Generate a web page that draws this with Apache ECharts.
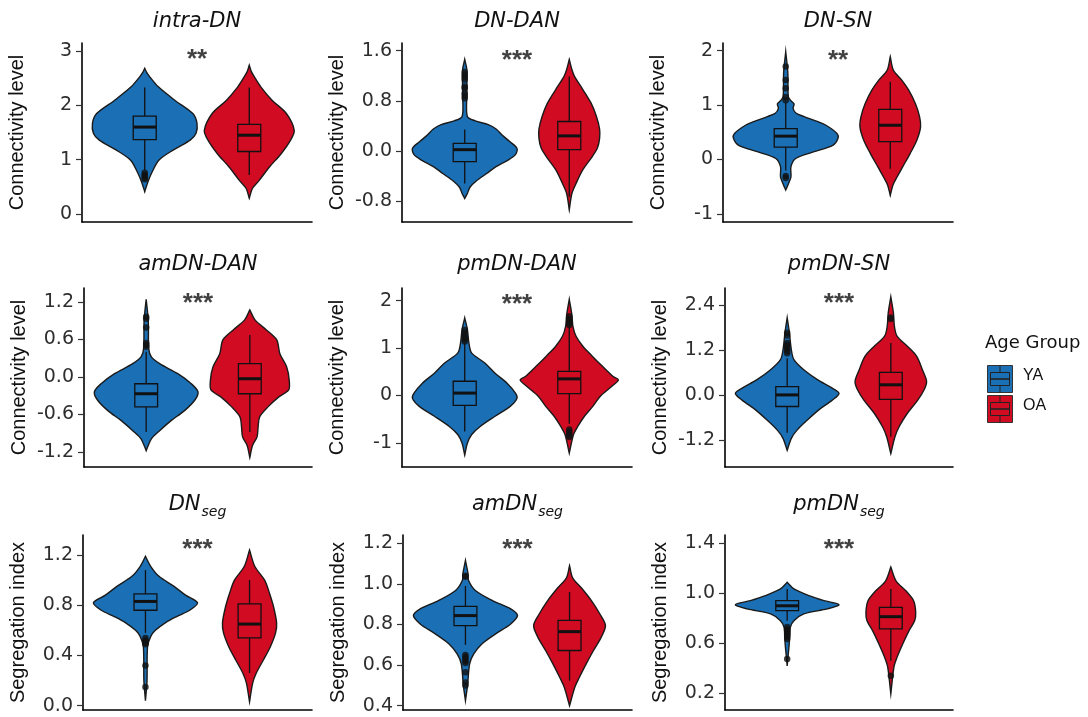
<!DOCTYPE html>
<html><head><meta charset="utf-8">
<script src="https://cdn.jsdelivr.net/npm/echarts@6/dist/echarts.min.js"></script>
<style>html,body{margin:0;padding:0;background:#fff}#c{width:1088px;height:717px}</style>
</head><body><div id="c"></div>
<script>
// ================= DATA =================
const groups = ['YA', 'OA'];
const groupX = [1, 2];
const legendTitle = 'Age Group';

const panelTitles = [['intra-DN',''],['DN-DAN',''],['DN-SN',''],['amDN-DAN',''],['pmDN-DAN',''],['pmDN-SN',''],['DN','seg'],['amDN','seg'],['pmDN','seg']];
const yAxisNames = ['Connectivity level','Connectivity level','Connectivity level','Connectivity level','Connectivity level','Connectivity level','Segregation index','Segregation index','Segregation index'];
const sigLabels = ['**','***','**','***','***','***','***','***','***'];
const sigLevels = [2.84, 1.44, 1.82, 1.16, 1.92, 2.43, 1.243, 1.169, 1.35];

// tick labels per panel
const ticks_intraDN  = ['0','1','2','3'];
const ticks_DN_DAN   = ['-0.8','0.0','0.8','1.6'];
const ticks_DN_SN    = ['-1','0','1','2'];
const ticks_amDN_DAN = ['-1.2','-0.6','0.0','0.6','1.2'];
const ticks_pmDN_DAN = ['-1','0','1','2'];
const ticks_pmDN_SN  = ['-1.2','0.0','1.2','2.4'];
const ticks_DNseg    = ['0.0','0.4','0.8','1.2'];
const ticks_amDNseg  = ['0.4','0.6','0.8','1.0','1.2'];
const ticks_pmDNseg  = ['0.2','0.6','1.0','1.4'];
const yRanges = [[-0.147,3.147],[-1.135,1.723],[-1.147,2.141],[-1.441,1.42],[-1.511,2.269],[-1.916,2.866],[-0.034,1.359],[0.379,1.241],[0.067,1.466]];

// violin profiles: [value, relative density width]
const intraDN_YA_violin = [[2.68,0],[2.60,0.04],[2.52,0.1],[2.34,0.26],[2.09,0.58],[1.85,0.92],[1.67,1.0],[1.48,0.98],[1.36,0.87],[1.18,0.55],[0.99,0.27],[0.75,0.13],[0.59,0.06],[0.41,0]];
const intraDN_OA_violin = [[2.74,0],[2.62,0.04],[2.52,0.1],[2.34,0.22],[2.09,0.44],[1.85,0.71],[1.54,0.86],[1.36,0.79],[1.11,0.61],[0.87,0.39],[0.62,0.19],[0.47,0.06],[0.29,0]];
const DN_DAN_YA_violin = [[1.46,0],[1.30,0.04],[0.90,0.04],[0.55,0.05],[0.48,0.2],[0.42,0.45],[0.35,0.6],[0.25,0.72],[0.15,0.86],[0.04,1.0],[-0.06,0.97],[-0.15,0.82],[-0.25,0.6],[-0.36,0.42],[-0.48,0.22],[-0.58,0.1],[-0.68,0.05],[-0.76,0]];
const DN_DAN_OA_violin = [[1.46,0],[1.30,0.05],[1.19,0.1],[0.98,0.26],[0.76,0.42],[0.55,0.52],[0.35,0.58],[0.20,0.58],[0.05,0.54],[-0.09,0.44],[-0.30,0.26],[-0.52,0.13],[-0.68,0.05],[-0.94,0]];
const DN_SN_YA_violin = [[1.98,0],[1.6,0.04],[1.15,0.05],[1.08,0.1],[1.02,0.16],[0.94,0.14],[0.85,0.2],[0.79,0.35],[0.70,0.6],[0.63,0.77],[0.48,0.98],[0.39,1.0],[0.26,0.9],[0.14,0.53],[0.02,0.19],[-0.13,0.1],[-0.32,0.1],[-0.45,0.05],[-0.56,0]];
const DN_SN_OA_violin = [[1.89,0],[1.64,0.06],[1.46,0.22],[1.28,0.35],[1.03,0.48],[0.79,0.56],[0.60,0.58],[0.36,0.51],[0.11,0.38],[-0.13,0.24],[-0.32,0.13],[-0.47,0.05],[-0.66,0]];
const amDN_DAN_YA_violin = [[1.24,0],[0.9,0.04],[0.45,0.05],[0.32,0.1],[0.21,0.26],[0.05,0.61],[-0.11,0.87],[-0.24,1.0],[-0.37,0.94],[-0.54,0.74],[-0.70,0.48],[-0.86,0.26],[-0.99,0.1],[-1.18,0]];
const amDN_DAN_OA_violin = [[1.07,0],[0.91,0.1],[0.75,0.32],[0.59,0.52],[0.37,0.58],[0.16,0.71],[-0.05,0.76],[-0.21,0.75],[-0.32,0.56],[-0.48,0.35],[-0.64,0.19],[-0.80,0.16],[-0.96,0.14],[-1.10,0.05],[-1.29,0]];
const pmDN_DAN_YA_violin = [[1.64,0],[1.4,0.05],[1.11,0.08],[0.90,0.13],[0.68,0.39],[0.47,0.58],[0.26,0.81],[0.05,0.97],[-0.06,1.0],[-0.23,0.87],[-0.44,0.58],[-0.66,0.29],[-0.83,0.13],[-1.01,0.05],[-1.26,0]];
const pmDN_DAN_OA_violin = [[2.03,0],[1.7,0.05],[1.46,0.07],[1.25,0.13],[1.04,0.26],[0.83,0.44],[0.61,0.64],[0.40,0.84],[0.33,0.94],[0.19,0.81],[-0.02,0.59],[-0.23,0.45],[-0.44,0.29],[-0.66,0.16],[-0.83,0.08],[-1.22,0]];
const pmDN_SN_YA_violin = [[2.07,0],[1.7,0.04],[1.22,0.08],[0.95,0.13],[0.68,0.32],[0.41,0.59],[0.19,0.87],[0.05,1.0],[-0.13,0.87],[-0.39,0.61],[-0.66,0.39],[-0.93,0.19],[-1.15,0.08],[-1.47,0]];
const pmDN_SN_OA_violin = [[2.63,0],[2.2,0.05],[1.84,0.07],[1.58,0.12],[1.31,0.32],[1.04,0.5],[0.68,0.61],[0.37,0.69],[0.14,0.64],[-0.13,0.52],[-0.48,0.32],[-0.84,0.16],[-1.11,0.08],[-1.56,0]];
const DNseg_YA_violin = [[1.19,0],[1.11,0.1],[1.03,0.26],[0.95,0.55],[0.88,0.77],[0.82,1.0],[0.76,0.85],[0.71,0.6],[0.66,0.38],[0.60,0.19],[0.55,0.1],[0.47,0.04],[0.2,0.03],[0.04,0]];
const DNseg_OA_violin = [[1.24,0],[1.11,0.1],[1.0,0.29],[0.90,0.38],[0.79,0.46],[0.66,0.52],[0.58,0.5],[0.47,0.4],[0.36,0.26],[0.26,0.13],[0.18,0.06],[0.03,0]];
const amDNseg_YA_violin = [[1.116,0],[1.05,0.05],[1.017,0.06],[0.968,0.19],[0.918,0.52],[0.877,0.87],[0.844,1.0],[0.803,0.87],[0.754,0.58],[0.705,0.32],[0.655,0.16],[0.606,0.08],[0.5,0.04],[0.425,0]];
const amDNseg_OA_violin = [[1.09,0],[1.03,0.06],[0.98,0.23],[0.918,0.42],[0.853,0.58],[0.795,0.69],[0.738,0.61],[0.672,0.46],[0.606,0.32],[0.54,0.19],[0.49,0.1],[0.40,0]];
const pmDNseg_YA_violin = [[1.088,0],[1.035,0.13],[0.981,0.42],[0.941,0.71],[0.909,1.0],[0.875,0.77],[0.835,0.32],[0.781,0.13],[0.728,0.06],[0.6,0.04],[0.42,0]];
const pmDNseg_OA_violin = [[1.21,0],[1.10,0.1],[1.02,0.29],[0.94,0.44],[0.848,0.48],[0.78,0.46],[0.70,0.35],[0.595,0.23],[0.488,0.12],[0.41,0.06],[0.195,0]];

// box stats: [lower whisker, Q1, median, Q3, upper whisker]
const intraDN_YA_box  = [0.81, 1.37, 1.60, 1.80, 2.33];
const intraDN_OA_box  = [0.72, 1.15, 1.45, 1.65, 2.33];
const DN_DAN_YA_box   = [-0.52, -0.17, 0.02, 0.12, 0.34];
const DN_DAN_OA_box   = [-0.73, 0.02, 0.24, 0.47, 1.19];
const DN_SN_YA_box    = [-0.20, 0.23, 0.43, 0.57, 1.05];
const DN_SN_OA_box    = [-0.17, 0.33, 0.63, 0.92, 1.43];
const amDN_DAN_YA_box = [-0.88, -0.48, -0.27, -0.11, 0.40];
const amDN_DAN_OA_box = [-0.88, -0.27, -0.03, 0.21, 0.67];
const pmDN_DAN_YA_box = [-0.76, -0.21, 0.05, 0.30, 1.10];
const pmDN_DAN_OA_box = [-0.60, 0.04, 0.35, 0.51, 1.45];
const pmDN_SN_YA_box  = [-1.00, -0.30, 0.01, 0.23, 0.99];
const pmDN_SN_OA_box  = [-1.11, -0.11, 0.28, 0.61, 1.40];
const DNseg_YA_box    = [0.58, 0.76, 0.83, 0.89, 1.08];
const DNseg_OA_box    = [0.26, 0.54, 0.65, 0.81, 1.00];
const amDNseg_YA_box  = [0.70, 0.795, 0.844, 0.889, 0.99];
const amDNseg_OA_box  = [0.524, 0.672, 0.765, 0.82, 0.96];
const pmDNseg_YA_box  = [0.78, 0.861, 0.90, 0.941, 1.035];
const pmDNseg_OA_box  = [0.46, 0.715, 0.813, 0.888, 1.035];

// outliers
const intraDN_YA_out  = [0.76, 0.72, 0.70, 0.67, 0.64];
const intraDN_OA_out  = [];
const DN_DAN_YA_out   = [1.26, 1.22, 1.18, 1.14, 1.03, 1.0, 0.92, 0.88, 0.84];
const DN_DAN_OA_out   = [];
const DN_SN_YA_out    = [1.71, 1.46, 1.31, 1.15, 1.09, -0.30, -0.34];
const DN_SN_OA_out    = [];
const amDN_DAN_YA_out = [0.96, 0.93, 0.79, 0.54, 0.51, 0.48];
const amDN_DAN_OA_out = [];
const pmDN_DAN_YA_out = [1.38, 1.32, 1.27, 1.22, 1.18, 1.14];
const pmDN_DAN_OA_out = [1.67, 1.62, 1.57, 1.52, 1.49, -0.72, -0.76, -0.80, -0.84, -0.88];
const pmDN_SN_YA_out  = [1.67, 1.60, 1.40, 1.34, 1.29, 1.24, 1.18, 1.12];
const pmDN_SN_OA_out  = [2.04, 2.08];
const DNseg_YA_out    = [0.54, 0.52, 0.51, 0.50, 0.49, 0.32, 0.15];
const DNseg_OA_out    = [];
const amDNseg_YA_out  = [1.04, 1.035, 0.65, 0.64, 0.63, 0.62, 0.61, 0.565, 0.515, 0.50];
const amDNseg_OA_out  = [];
const pmDNseg_YA_out  = [0.73, 0.71, 0.70, 0.69, 0.68, 0.67, 0.66, 0.65, 0.635, 0.475];
const pmDNseg_OA_out  = [0.34];

// ================= ASSEMBLY =================
const tickSets = [ticks_intraDN, ticks_DN_DAN, ticks_DN_SN, ticks_amDN_DAN, ticks_pmDN_DAN, ticks_pmDN_SN, ticks_DNseg, ticks_amDNseg, ticks_pmDNseg];
const violins = [
  [intraDN_YA_violin, intraDN_OA_violin],[DN_DAN_YA_violin, DN_DAN_OA_violin],[DN_SN_YA_violin, DN_SN_OA_violin],
  [amDN_DAN_YA_violin, amDN_DAN_OA_violin],[pmDN_DAN_YA_violin, pmDN_DAN_OA_violin],[pmDN_SN_YA_violin, pmDN_SN_OA_violin],
  [DNseg_YA_violin, DNseg_OA_violin],[amDNseg_YA_violin, amDNseg_OA_violin],[pmDNseg_YA_violin, pmDNseg_OA_violin]];
const boxes = [
  [intraDN_YA_box, intraDN_OA_box],[DN_DAN_YA_box, DN_DAN_OA_box],[DN_SN_YA_box, DN_SN_OA_box],
  [amDN_DAN_YA_box, amDN_DAN_OA_box],[pmDN_DAN_YA_box, pmDN_DAN_OA_box],[pmDN_SN_YA_box, pmDN_SN_OA_box],
  [DNseg_YA_box, DNseg_OA_box],[amDNseg_YA_box, amDNseg_OA_box],[pmDNseg_YA_box, pmDNseg_OA_box]];
const outliers = [
  [intraDN_YA_out, intraDN_OA_out],[DN_DAN_YA_out, DN_DAN_OA_out],[DN_SN_YA_out, DN_SN_OA_out],
  [amDN_DAN_YA_out, amDN_DAN_OA_out],[pmDN_DAN_YA_out, pmDN_DAN_OA_out],[pmDN_SN_YA_out, pmDN_SN_OA_out],
  [DNseg_YA_out, DNseg_OA_out],[amDNseg_YA_out, amDNseg_OA_out],[pmDNseg_YA_out, pmDNseg_OA_out]];

const COLORS = ['#1b6fb5', '#d00b22'];
const OUTLINE = '#1a1a1a';
const HALF = 0.5;      // max violin half width (x units)
const BOXHALF = 0.11;  // box half width (x units)
const gridBoxes = [
  [82,43,312,222],[402,43,632,222],[723,43,953,222],
  [84,288,312,467],[402,288,632,467],[725,288,953,467],
  [83,535,312,710],[403,535,632,710],[725,535,953,710]];
const titleTops = [11, 11, 11, 254, 254, 254, 490, 490, 490];

const grids = [], xAxes = [], yAxes = [], series = [], titles = [];
gridBoxes.forEach((g, i) => {
  grids.push({left: g[0], top: g[1], width: g[2]-g[0], height: g[3]-g[1]});
  xAxes.push({type:'value', gridIndex:i, min:0.4, max:2.6,
    axisLine:{show:true, onZero:false, lineStyle:{color:'#000', width:1.6}},
    axisTick:{show:false}, axisLabel:{show:false}, splitLine:{show:false}});
  const tl = tickSets[i];
  const tv = tl.map(parseFloat);
  yAxes.push({type:'value', gridIndex:i, min:yRanges[i][0], max:yRanges[i][1],
    axisLine:{show:true, onZero:false, lineStyle:{color:'#000', width:1.6}},
    axisTick:{show:true, length:6, customValues: tv, lineStyle:{color:'#333', width:1.2}},
    axisLabel:{customValues: tv, margin:10, fontSize:19, fontFamily:'DejaVu Sans', color:'#2e2e2e',
      formatter: v => { const k = tv.findIndex(t => Math.abs(t - v) < 1e-9); return k >= 0 ? tl[k] : ''; }},
    splitLine:{show:false},
    name: yAxisNames[i], nameLocation:'middle', nameGap:55,
    nameTextStyle:{fontSize:20, fontFamily:'Liberation Sans', color:'#111'}});

  const cx = (g[0]+g[2])/2;
  const t = panelTitles[i];
  if (t[1]) {
    titles.push({text: '{m|' + t[0] + '}{s|' + t[1] + '}', left: cx, top: titleTops[i], textAlign:'center', padding:0,
      textStyle:{fontWeight:'normal', rich:{
        m:{fontSize:21, fontStyle:'italic', fontWeight:'normal', fontFamily:'DejaVu Sans', color:'#111'},
        s:{fontSize:14, fontStyle:'italic', fontWeight:'normal', fontFamily:'DejaVu Sans', color:'#111', padding:[15,0,0,1]}}}});
  } else {
    titles.push({text: t[0], left: cx, top: titleTops[i], textAlign:'center', padding:0,
      textStyle:{fontSize:21, fontStyle:'italic', fontWeight:'normal', fontFamily:'DejaVu Sans', color:'#111'}});
  }

  const vio = violins[i], bx = boxes[i], outs = outliers[i];
  series.push({type:'custom', xAxisIndex:i, yAxisIndex:i, z:2, silent:true,
    data: groupX.map((x, k) => [x, bx[k][2]]),
    renderItem: (params, api) => {
      const k = params.dataIndex;
      const x = api.value(0);
      const left = [], right = [];
      vio[k].forEach(([y, w]) => {
        left.push(api.coord([x - w*HALF, y]));
        right.push(api.coord([x + w*HALF, y]));
      });
      return {type:'polygon', shape:{points: left.concat(right.reverse()), smooth:0.3},
        style:{fill: COLORS[k], stroke: OUTLINE, lineWidth:1.4}};
    }});
  series.push({type:'custom', xAxisIndex:i, yAxisIndex:i, z:3, silent:true,
    data: groupX.map((x, k) => [x, bx[k][2]]),
    renderItem: (params, api) => {
      const k = params.dataIndex;
      const x = api.value(0);
      const [lo, q1, md, q3, hi] = bx[k];
      const pLo = api.coord([x, lo]), pQ1 = api.coord([x, q1]), pMd = api.coord([x, md]),
            pQ3 = api.coord([x, q3]), pHi = api.coord([x, hi]);
      const xl = api.coord([x - BOXHALF, md])[0], xr = api.coord([x + BOXHALF, md])[0];
      const ls = {stroke:'#111', lineWidth:1.3};
      return {type:'group', children:[
        {type:'line', shape:{x1:pHi[0], y1:pHi[1], x2:pQ3[0], y2:pQ3[1]}, style:ls},
        {type:'line', shape:{x1:pQ1[0], y1:pQ1[1], x2:pLo[0], y2:pLo[1]}, style:ls},
        {type:'rect', shape:{x:xl, y:pQ3[1], width:xr-xl, height:pQ1[1]-pQ3[1]}, style:{fill:COLORS[k], stroke:'#111', lineWidth:1.3}},
        {type:'line', shape:{x1:xl, y1:pMd[1], x2:xr, y2:pMd[1]}, style:{stroke:'#111', lineWidth:3}}
      ]};
    }});
  const od = [];
  outs.forEach((arr, k) => arr.forEach(v => od.push([groupX[k], v])));
  series.push({type:'scatter', xAxisIndex:i, yAxisIndex:i, z:4, silent:true, symbol:'circle', symbolSize:6.5,
    itemStyle:{color:'#111'}, data: od});
  series.push({type:'scatter', xAxisIndex:i, yAxisIndex:i, z:5, silent:true, symbol:'circle', symbolSize:1,
    itemStyle:{color:'rgba(0,0,0,0)'}, data:[[1.5, sigLevels[i]]],
    label:{show:true, position:'inside', formatter: sigLabels[i], fontSize:26, fontWeight:'bold', fontFamily:'Liberation Sans', color:'#111'}});
});

// legend (drawn as graphic key glyphs)
const legendGraphics = [
  {type:'text', left:985, top:334, style:{text: legendTitle, fontSize:18, fontFamily:'DejaVu Sans', fill:'#111'}}
];
groups.forEach((gname, k) => {
  const y0 = 363 + k*30;
  legendGraphics.push({type:'group', left:987, top:y0, children:[
    {type:'rect', shape:{x:0, y:0, width:25, height:27}, style:{fill:COLORS[k], stroke:'#333', lineWidth:1}},
    {type:'line', shape:{x1:12.5, y1:0, x2:12.5, y2:7}, style:{stroke:'#222', lineWidth:1}},
    {type:'line', shape:{x1:12.5, y1:20, x2:12.5, y2:27}, style:{stroke:'#222', lineWidth:1}},
    {type:'rect', shape:{x:3, y:7, width:19, height:13}, style:{fill:COLORS[k], stroke:'#222', lineWidth:1}},
    {type:'line', shape:{x1:3, y1:13.5, x2:22, y2:13.5}, style:{stroke:'#222', lineWidth:1.6}}
  ]});
  legendGraphics.push({type:'text', left:1023, top:y0 + 5, style:{text: gname, fontSize:16, fontFamily:'Liberation Sans', fill:'#111'}});
});

const chart = echarts.init(document.getElementById('c'), null, {renderer:'canvas'});
chart.setOption({
  animation:false,
  backgroundColor:'#fff',
  title: titles,
  grid: grids,
  xAxis: xAxes,
  yAxis: yAxes,
  series: series,
  graphic: legendGraphics
});
</script>
</body></html>
